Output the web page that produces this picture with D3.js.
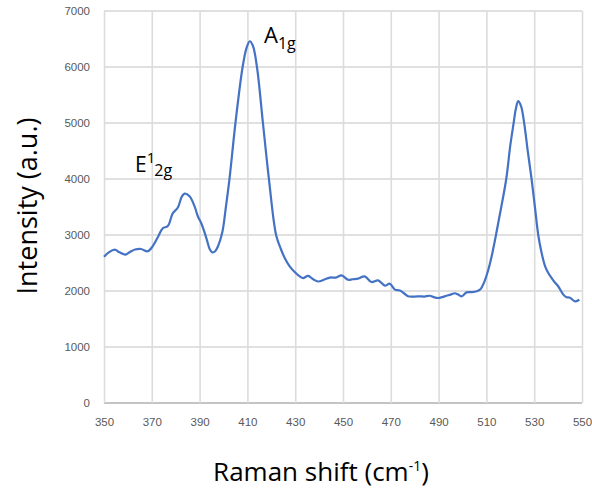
<!DOCTYPE html>
<meta charset="utf-8">
<script src="https://d3js.org/d3.v7.min.js"></script>
<style>
  body { margin: 0; background: #fff; }
</style>
<div id="my_dataviz"></div>
<script>

// Raman spectrum
var ramanShift = [350, 352, 354.5, 356.5, 359, 361, 363, 365.5, 368.3, 370.4, 372.5, 374.6, 376.7, 378.8,
  380.9, 382.5, 383.7, 385.8, 387.9, 389.3, 390.7, 392.8, 394.2, 395.3, 396.5, 397.7, 399.5, 401,
  402.5, 405, 408, 409.7, 411, 412.3, 414, 416.5, 419, 422, 424, 425.5, 427.7, 430, 431.9, 433.3,
  435.4, 437.5, 439.6, 442, 444.5, 447, 449.4, 452.1, 454, 456.3, 459.1, 461.9, 464.7, 467.5, 469.6,
  471.7, 473.8, 475.5, 477.2, 480, 482.1, 484, 486.3, 488, 489.8, 491.5, 493.3, 495, 496.8, 498,
  499.6, 501.7, 504, 505.9, 507.5, 509, 510.8, 512.2, 514, 516, 518.3, 520, 521.4, 522.3, 523.3,
  524.5, 525.8, 527.3, 528.9, 530.3, 531.7, 533, 534.5, 535.9, 537.3, 538.5, 540.1, 542.2, 543.5,
  545, 547.1, 548.9];
var intensity = [2610, 2690, 2740, 2690, 2650, 2700, 2740, 2750, 2710, 2800, 2960, 3120, 3160, 3390,
  3490, 3680, 3740, 3690, 3510, 3330, 3210, 2950, 2750, 2690, 2710, 2800, 3050, 3500,
  4000, 5000, 6000, 6350, 6460, 6380, 6000, 5000, 4000, 3000, 2750, 2600, 2440, 2330, 2260, 2230,
  2270, 2210, 2170, 2200, 2240, 2240, 2280, 2200, 2210, 2220, 2260, 2160, 2190, 2095, 2130,
  2025, 2010, 1960, 1905, 1900, 1905, 1900, 1915, 1890, 1875, 1890, 1915, 1935, 1960, 1940,
  1905, 1975, 1980, 1995, 2030, 2150, 2380, 2620, 3000, 3450, 4000, 4600, 5000, 5250, 5390,
  5300, 5000, 4500, 4000, 3500, 3000, 2700, 2450, 2320, 2230, 2160, 2080, 1935, 1890,
  1880, 1815, 1845];

var xTicks = [350, 370, 390, 410, 430, 450, 470, 490, 510, 530, 550];
var yTicks = [0, 1000, 2000, 3000, 4000, 5000, 6000, 7000];

var data = ramanShift.map(function(d, i) { return { x: d, y: intensity[i] }; });

var width = 592, height = 491;
var plotL = 104, plotR = 582, plotT = 11, plotB = 403;

var svg = d3.select("#my_dataviz")
  .append("svg")
    .attr("width", width)
    .attr("height", height)
    .style("font-family", "'Open Sans', sans-serif");

var x = d3.scaleLinear().domain([350, 550]).range([plotL, plotR]);
var y = d3.scaleLinear().domain([0, 7000]).range([plotB, plotT]);

// horizontal gridlines as thin rects
svg.append("g")
  .selectAll("rect")
  .data(yTicks)
  .enter().append("rect")
    .attr("x", plotL)
    .attr("y", function(d) { return Math.round(y(d)) - 1; })
    .attr("width", plotR - plotL)
    .attr("height", function(d) { return d === 0 ? 2 : 2; })
    .attr("fill", function(d) { return d === 0 ? "#c4c4c4" : "#e0e0e0"; });

// X axis, with tick lines running up as vertical gridlines
var xAxis = svg.append("g")
  .attr("transform", "translate(0," + plotB + ")")
  .call(d3.axisBottom(x).tickValues(xTicks).tickSizeInner(-(plotB - plotT)).tickSizeOuter(0).tickPadding(15));
xAxis.select(".domain").remove();
xAxis.selectAll(".tick line").attr("stroke", "#dcdcdc").attr("stroke-width", 1.6);
xAxis.selectAll("text").attr("fill", "#595959").style("font-size", "11.5px");

// Y axis labels
var yAxis = svg.append("g")
  .attr("transform", "translate(" + plotL + ",0)")
  .call(d3.axisLeft(y).tickValues(yTicks).tickFormat(d3.format("d")).tickSize(0).tickPadding(14));
yAxis.select(".domain").remove();
yAxis.selectAll("text").attr("fill", "#595959").style("font-size", "11.5px");

// spectrum line
svg.append("path")
  .datum(data)
  .attr("fill", "none")
  .attr("stroke", "#4472c4")
  .attr("stroke-width", 2.2)
  .attr("stroke-linejoin", "round")
  .attr("d", d3.line()
    .x(function(d) { return x(d.x); })
    .y(function(d) { return y(d.y); })
    .curve(d3.curveCatmullRom.alpha(0.5)));

// peak labels
var a1g = svg.append("text")
  .attr("x", 264)
  .attr("y", 43)
  .style("font-size", "22px")
  .attr("fill", "#000");
a1g.append("tspan").text("A");
a1g.append("tspan").attr("dy", 6).style("font-size", "16px").text("1g");

var e2g = svg.append("text")
  .attr("x", 135)
  .attr("y", 172)
  .style("font-size", "21px")
  .attr("fill", "#000");
e2g.append("tspan").text("E");
e2g.append("tspan").attr("dy", -9).style("font-size", "15px").text("1");
e2g.append("tspan").attr("dx", -1).attr("dy", 13).style("font-size", "16px").text("2g");

// axis titles
var xt = svg.append("text")
  .attr("x", 321)
  .attr("y", 481)
  .style("text-anchor", "middle")
  .style("font-size", "26px")
  .attr("fill", "#000");
xt.append("tspan").text("Raman shift (cm");
xt.append("tspan").attr("dy", -10).style("font-size", "14px").text("-1");
xt.append("tspan").attr("dy", 10).text(")");

svg.append("text")
  .attr("transform", "translate(37,206) rotate(-90)")
  .style("text-anchor", "middle")
  .style("font-size", "27px")
  .attr("fill", "#000")
  .text("Intensity (a.u.)");

</script>
